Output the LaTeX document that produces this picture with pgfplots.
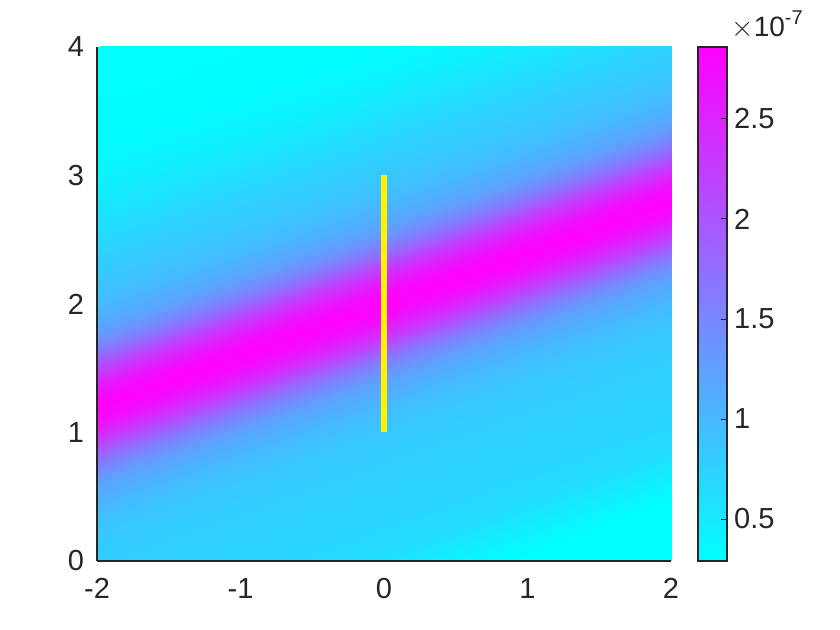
\documentclass[border=0pt]{standalone}
\usepackage{fontspec}
\setmainfont{Liberation Sans}
\usepackage{pgfplots}
\pgfplotsset{compat=1.18}
\definecolor{axgray}{rgb}{0.15,0.15,0.15}

\begin{document}
\begin{tikzpicture}
% page size 840x630 px at 0.5pt per px
\path (-48.5pt,-34.5pt) rectangle (371.5pt,280.5pt);
\begin{axis}[
    at={(0,0)}, anchor=south west,
    width=287pt, height=257pt, scale only axis,
    xmin=-2, xmax=2, ymin=0, ymax=4,
    xtick={-2,-1,0,1,2}, ytick={0,1,2,3,4},
    axis x line*=bottom, axis y line*=left,
    axis line style={axgray, line width=0.6pt, -},
    major tick length=0pt,
    axis on top,
    ticklabel style={font=\fontsize{14.5}{17}\selectfont, text=axgray},
    xticklabel style={yshift=-5pt},
    yticklabel style={xshift=-3pt},
    /pgf/number format/assume math mode=true,
    colormap={cool}{rgb255=(0,255,255) rgb255=(255,0,255)},
    point meta min=0.29, point meta max=2.86,
    colorbar,
    colorbar style={
        at={(parent axis.north east)}, anchor=north west, xshift=5pt,
        width=14.5pt, height=257pt, scale only axis,
        ytick={0.5,1,1.5,2,2.5},
        yticklabel pos=right, ytick pos=right,
        tick align=inside, major tick length=3pt,
        tick style={axgray, line width=0.5pt},
        axis line style={axgray, line width=0.6pt},
        yticklabel style={font=\fontsize{14.5}{17}\selectfont, text=axgray},
        /pgf/number format/assume math mode=true,
    },
]
% field magnitude (units of 1e-7), mesh rows follow the bright ridge
\addplot[surf, shader=interp, mesh/cols=5, point meta=\thisrow{v}] table {
x y v
-2 -1.65 0.29
-1 -1.25 0.29
0 -0.85 0.29
1 -0.45 0.29
2 -0.05 0.29
-2 -1.35 0.29
-1 -0.95 0.29
0 -0.55 0.29
1 -0.15 0.29
2 0.25 0.29
-2 -1.15 0.29
-1 -0.75 0.29
0 -0.35 0.29
1 0.05 0.29
2 0.45 0.29
-2 -0.95 0.45
-1 -0.55 0.45
0 -0.15 0.45
1 0.25 0.45
2 0.65 0.45
-2 -0.75 0.63
-1 -0.35 0.63
0 0.05 0.63
1 0.45 0.63
2 0.85 0.63
-2 -0.50 0.71
-1 -0.10 0.71
0 0.30 0.71
1 0.70 0.71
2 1.10 0.71
-2 -0.25 0.74
-1 0.15 0.74
0 0.55 0.74
1 0.95 0.74
2 1.35 0.74
-2 -0.05 0.78
-1 0.35 0.78
0 0.75 0.78
1 1.15 0.78
2 1.55 0.78
-2 0.20 0.85
-1 0.60 0.85
0 1.00 0.85
1 1.40 0.85
2 1.80 0.85
-2 0.40 0.98
-1 0.80 0.98
0 1.20 0.98
1 1.60 0.98
2 2.00 0.98
-2 0.60 1.22
-1 1.00 1.22
0 1.40 1.22
1 1.80 1.22
2 2.20 1.22
-2 0.70 1.45
-1 1.10 1.45
0 1.50 1.45
1 1.90 1.45
2 2.30 1.45
-2 0.80 1.75
-1 1.20 1.75
0 1.60 1.75
1 2.00 1.75
2 2.40 1.75
-2 0.90 2.15
-1 1.30 2.15
0 1.70 2.15
1 2.10 2.15
2 2.50 2.15
-2 1.00 2.50
-1 1.40 2.50
0 1.80 2.50
1 2.20 2.50
2 2.60 2.50
-2 1.10 2.75
-1 1.50 2.75
0 1.90 2.75
1 2.30 2.75
2 2.70 2.75
-2 1.20 2.86
-1 1.60 2.86
0 2.00 2.86
1 2.40 2.86
2 2.80 2.86
-2 1.30 2.75
-1 1.70 2.75
0 2.10 2.75
1 2.50 2.75
2 2.90 2.75
-2 1.40 2.50
-1 1.80 2.50
0 2.20 2.50
1 2.60 2.50
2 3.00 2.50
-2 1.50 2.15
-1 1.90 2.15
0 2.30 2.15
1 2.70 2.15
2 3.10 2.15
-2 1.60 1.75
-1 2.00 1.75
0 2.40 1.75
1 2.80 1.75
2 3.20 1.75
-2 1.70 1.45
-1 2.10 1.45
0 2.50 1.45
1 2.90 1.45
2 3.30 1.45
-2 1.80 1.22
-1 2.20 1.22
0 2.60 1.22
1 3.00 1.22
2 3.40 1.22
-2 2.00 0.98
-1 2.40 0.98
0 2.80 0.98
1 3.20 0.98
2 3.60 0.98
-2 2.20 0.85
-1 2.60 0.85
0 3.00 0.85
1 3.40 0.85
2 3.80 0.85
-2 2.45 0.72
-1 2.85 0.72
0 3.25 0.72
1 3.65 0.72
2 4.05 0.72
-2 2.70 0.56
-1 3.10 0.56
0 3.50 0.56
1 3.90 0.56
2 4.30 0.56
-2 2.95 0.42
-1 3.35 0.41
0 3.75 0.40
1 4.15 0.40
2 4.55 0.40
-2 3.20 0.33
-1 3.60 0.32
0 4.00 0.32
1 4.40 0.32
2 4.80 0.32
-2 3.45 0.30
-1 3.85 0.30
0 4.25 0.30
1 4.65 0.30
2 5.05 0.30
-2 3.70 0.29
-1 4.10 0.29
0 4.50 0.29
1 4.90 0.29
2 5.30 0.29
-2 4.00 0.29
-1 4.40 0.29
0 4.80 0.29
1 5.20 0.29
2 5.60 0.29
};
% source segment
\addplot[yellow, line width=3pt, forget plot] coordinates {(0,1) (0,3)};
\end{axis}
\node[anchor=base west, text=axgray, font=\fontsize{14}{16}\selectfont, inner sep=0pt]
    at (317pt,262pt) {$\times$10\raisebox{0.45em}{\fontsize{10}{11}\selectfont -7}};
\end{tikzpicture}
\end{document}
